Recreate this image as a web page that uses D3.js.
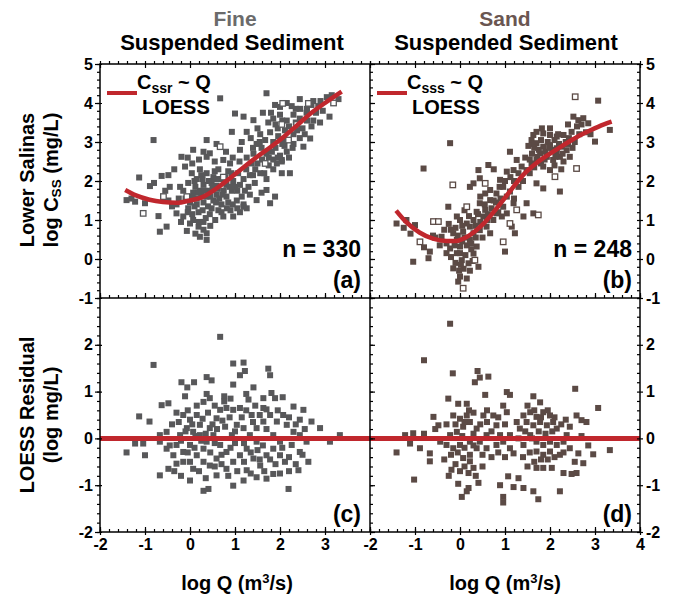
<!DOCTYPE html>
<html><head><meta charset="utf-8">
<script src="https://cdn.jsdelivr.net/npm/d3@7"></script>
<style>body{margin:0;background:#fff}svg{display:block;font-family:"Liberation Sans",Arial,sans-serif;font-weight:bold}</style>
</head><body><script>
// ---------- DATA ----------
const xTicksLeft = [-2,-1,0,1,2,3];
const xTicksRight = [-2,-1,0,1,2,3,4];
const yTicksTop = [-1,0,1,2,3,4,5];
const yTicksBottom = [-2,-1,0,1,2];

const fineFilled = [[-0.81,3.05],[-1.13,2.09],[-1.41,1.51],[-1.22,1.47],[-1.0,1.43],[-0.89,1.87],[-0.63,2.13],[-0.48,2.15],[-0.67,0.7],[-0.52,0.83],[-0.19,2.62],[-0.11,2.37],[0.07,2.8],[-0.22,1.85],[0.37,3.05],[0.44,2.71],[0.37,2.62],[0.74,2.54],[0.67,4.12],[0.93,3.26],[1.0,3.73],[1.19,3.65],[1.26,3.26],[1.41,3.56],[1.7,4.25],[1.89,3.95],[2.26,3.92],[2.44,4.1],[2.74,4.05],[2.85,3.92],[3.04,4.15],[2.67,3.09],[2.52,2.88],[2.22,2.2],[2.04,2.54],[1.7,1.77],[1.78,1.43],[1.48,1.51],[1.19,1.34],[0.96,1.09],[0.74,1.09],[0.37,0.66],[0.22,0.57],[0.37,0.49],[0.19,0.83],[0,0.91],[-0.15,1.09],[-0.3,1.17],
[1.85,3.6],[2.0,3.7],[2.15,3.55],[2.3,3.7],[2.59,3.75],[2.74,3.55],[2.89,3.5],[1.74,3.5],[2.44,3.6],
[0.59,2.95],[1.48,2.95],[1.56,3.2],[1.67,3.05],[1.78,3.25],[1.85,3.0],[1.96,3.15],[2.11,3.3],[2.3,3.2],[2.44,3.1],
[1.11,2.8],[1.26,2.6],[1.41,2.7],[1.59,2.85],[1.7,2.7],[1.85,2.55],[2.0,2.65],[2.04,2.5],[2.15,2.75],[0.89,2.45],[1.37,2.45],[1.93,2.45],
[0.04,2.2],[0.15,2.05],[0.22,2.3],[0.37,2.2],[0.52,2.1],[0.63,2.3],[0.85,2.25],[0.96,2.0],[1.07,2.2],[1.19,2.05],[1.33,2.15],[1.44,1.95],[1.56,2.2],[1.7,2.05],[1.85,2.3],[2.04,2.2],[-0.04,1.95],[0.3,1.9],[0.48,1.95],[0.59,1.88],[0.81,1.9],[1.11,1.9],
[-0.48,1.5],[-0.3,1.4],[-0.15,1.75],[0,1.45],[0.07,1.7],[0.15,1.55],[0.22,1.75],[0.3,1.45],[0.37,1.6],[0.44,1.75],[0.52,1.5],[0.59,1.65],[0.7,1.4],[0.81,1.6],[0.93,1.75],[1.04,1.5],[1.19,1.4],[1.33,1.65],[1.59,1.7],[1.89,1.6],
[-0.04,1.3],[0.07,1.0],[0.19,1.2],[0.3,0.95],[0.44,1.15],[0.56,1.0],[1.11,1.2],[1.26,1.3],[0.63,1.25],[0.3,0.75],[-0.07,0.72],
[0.1,1.35],[0.25,1.65],[0.4,1.35],[0.5,1.85],[0.65,1.55],[0.75,1.75],[0.85,1.45],[0.55,2.25],[0.7,2.05],[0.9,1.25],[0.25,2.15],[0.12,1.85],[-0.1,1.55],[1.0,1.85],[1.15,1.6],[1.3,1.85],[1.45,2.3],[1.6,2.55],[1.75,2.4],[1.9,2.85],[2.1,3.05],[2.2,3.4],[2.35,3.5],[2.5,3.35],[2.1,2.9],[2.3,2.95],[1.95,3.35],[2.6,3.55],[2.0,3.9],[1.62,3.75],[2.45,3.85],[2.8,3.75],[2.95,3.8],[3.1,3.65],[1.5,3.35],[1.35,3.1],[1.15,3.0],[0.8,2.75],[0.2,2.55],[-0.35,2.3],[-0.8,1.95],[-0.55,1.75],[-1.3,1.55],[-0.7,1.1],
[0.05,1.15],[0.15,1.4],[0.28,1.25],[0.35,1.05],[0.48,1.3],[0.58,1.45],[0.7,1.2],[0.82,1.3],[0.95,1.4],[1.05,1.3],[0.05,1.6],[0.18,1.7],[0.32,1.75],[0.45,1.6],[0.62,1.8],[0.72,1.65],[0.88,1.85],[1.05,1.75],[1.22,1.75],[0.1,2.0],[0.28,2.05],[0.42,2.0],[0.6,2.05],[0.78,2.1],[0.92,2.2],[1.25,2.3],[1.4,2.15],[1.5,2.45],[1.65,2.2],[1.75,2.6],[1.82,2.75],[1.95,2.6],[2.05,2.95],[2.2,2.6],[2.28,2.85],[2.38,3.3],[2.55,3.2],[2.7,3.4],[2.6,3.85],[2.7,3.95],[2.9,4.05],[3.15,4.2],[3.3,4.1],[2.15,4.0],[2.35,3.85],[1.8,3.75],[1.9,3.45],[2.05,3.55],[1.55,3.0],[1.4,2.85],[0.2,0.95],[0.45,0.85],[0.12,0.65],[-0.2,0.95],[-0.05,1.2],[-0.25,1.55],[-0.4,1.35],[-0.45,1.85],[-0.6,1.6],[0.55,2.5],[0.95,2.6],[1.1,2.5],[0.05,2.45],[-0.05,2.6],[0.3,2.75]];
const fineOpen = [[-1.04,1.17],[-0.59,1.6],[0.67,2.88],[2.06,3.99],[2.63,3.99],[3.19,4.0],[2.37,3.45],[2.04,3.45],[2.19,3.05],[1.67,2.45],[0.74,2.1],[-0.07,1.6]];
const fineLoess = [[-1.44,1.77],[-1.2,1.63],[-0.9,1.52],[-0.6,1.46],[-0.3,1.44],[0,1.5],[0.3,1.6],[0.6,1.82],[0.9,2.08],[1.2,2.36],[1.5,2.63],[1.8,2.88],[2.1,3.15],[2.4,3.45],[2.7,3.75],[3.0,4.0],[3.37,4.29]];

const sandFilled = [[3.07,4.06],[3.33,3.31],[3.0,3.01],[2.22,2.62],[2.44,2.62],[2.52,3.65],[2.63,3.56],[2.74,3.61],[2.85,3.48],[2.48,3.26],[2.3,3.18],[2.15,3.14],[2.0,3.18],[1.85,3.22],[1.7,3.26],[1.63,3.18],[1.59,3.05],
[1.7,2.97],[1.85,2.88],[2.0,2.92],[2.15,2.84],[2.26,2.88],[2.37,2.79],[1.78,2.71],[1.93,2.62],[2.07,2.54],[1.7,2.54],[1.59,2.45],[1.85,2.37],[2.0,2.28],[1.48,2.28],[2.15,2.71],[2.3,2.5],
[1.7,1.94],[1.85,1.81],[2.22,1.73],[1.26,2.54],[1.37,2.37],[1.19,2.28],[1.04,2.24],[1.11,2.75],[0.63,2.41],[0.41,2.28],[0.44,2.07],[0.3,1.94],[0.22,1.85],
[0.67,1.77],[0.81,1.68],[0.96,1.85],[0.89,2.03],[1.04,1.6],[1.11,1.73],[1.19,1.43],[1.48,1.43],[1.41,1.09],[1.63,1.17],[1.15,0.83],[1.0,0.19],[1.22,0.66],
[-0.81,2.32],[-0.22,2.97],[-0.26,1.34],[0.44,1.43],[0.56,1.26],[0.37,1.21],[0.52,1.09],[-1.41,0.91],[-1.19,1.0],[-1.0,0.87],[-1.04,-0.07],[-0.67,0.19],[-0.7,0.02],
[-0.41,0.57],[-0.3,0.4],[-0.22,0.27],[-0.07,0.49],[0,0.32],[-0.15,0.66],[0.07,0.7],[0.22,0.83],[0.3,1.0],[0.15,0.91],[0,1.0],[-0.07,1.09],
[-0.07,0.15],[0.04,-0.03],[0.19,-0.11],[0.41,-0.2],[-0.15,-0.24],[0,-0.45],[-0.04,-0.58],[0.15,-0.5],
[0.3,0.66],[0.44,0.74],[0.59,0.83],[0.67,0.66],[0.22,0.49],[0.37,0.32],[0.3,0.14],[0.74,1.0],[0.81,1.17],[0.93,1.09],[0.56,1.68],[0.67,1.51],[0.96,1.34],[1.04,1.17],
[1.75,2.8],[1.9,2.75],[2.05,2.8],[2.2,2.95],[2.35,3.0],[1.6,2.7],[1.65,2.85],[1.8,3.05],[1.95,3.0],[2.1,3.05],[2.4,2.95],[2.55,3.0],[2.6,3.4],[2.9,3.2],[1.55,2.2],[1.65,2.35],[1.8,2.45],[2.1,2.4],[2.25,2.3],[1.4,2.0],[1.3,1.85],[1.2,2.0],[0.8,1.45],[0.7,1.3],[0.6,1.0],[0.45,0.95],[0.35,0.85],[0.1,0.55],[0.15,0.35],[-0.1,0.8],[-0.25,0.9],[0.0,0.15],[0.25,0.25],[0.5,0.55],[-0.35,0.75],[-0.55,0.55],[-1.25,0.8],[-0.1,-0.1],[0.08,-0.25],[-0.05,0.6],[0.45,1.6],[0.9,1.55],[1.0,2.0],[0.75,2.3],[-0.6,0.6],
[1.62,2.95],[1.72,2.62],[1.88,2.55],[1.98,2.85],[2.12,2.62],[2.18,3.2],[2.28,2.7],[2.42,3.1],[2.5,2.85],[2.65,3.2],[1.55,2.55],[1.45,2.6],[1.52,2.9],[1.82,3.35],[2.0,3.35],[2.4,3.45],[2.7,3.45],[2.8,3.25],[-0.2,0.05],[-0.12,0.35],[0.05,0.45],[0.12,0.1],[0.25,0.4],[0.28,-0.05],[-0.3,0.15],[-0.2,0.75],[0.05,0.85],[0.35,0.55],[0.4,1.15],[0.62,1.15],[0.55,1.4],[0.75,1.5],[0.85,1.2],[0.88,1.85],[1.2,1.55],[1.3,2.2],[1.12,2.1],[-0.45,0.35],[-0.8,0.3],[-1.1,0.65],[0.2,1.1],[0.1,1.25],[-0.02,-0.3],[0.22,-0.3],[0.02,-0.15]];
const sandOpen = [[2.56,4.16],[2.59,2.32],[2.11,2.11],[0.56,1.94],[1.26,1.26],[1.74,1.13],[1.11,0.91],[0.96,0.44],[-0.16,1.9],[0.15,1.34],[-0.89,0.44],[-0.59,0.96],[-0.48,0.96],[0.33,-0.03],[0.07,-0.75]];
const sandLoess = [[-1.42,1.24],[-1.2,0.95],[-0.9,0.68],[-0.6,0.52],[-0.3,0.46],[-0.1,0.46],[0.2,0.6],[0.5,0.88],[0.8,1.28],[1.1,1.72],[1.4,2.15],[1.7,2.46],[2.0,2.7],[2.3,2.92],[2.6,3.13],[2.9,3.3],[3.2,3.45],[3.37,3.52]];

const fineResid = [[0.67,2.17],[-0.81,1.57],[-0.19,1.2],[-0.06,1.09],[0.09,1.2],[0.37,1.31],[0.48,1.24],[0.96,1.6],[1.19,1.62],[1.22,1.44],[1.11,1.35],[1.74,1.49],[1.78,1.35],[0.96,1.15],[1.41,1.09],[-0.11,0.9],[0.37,0.95],[0.44,0.86],[0.76,0.9],[0.76,0.79],[-0.63,0.71],[-0.48,0.75],[1.3,0.83],[1.63,0.86],[1.81,0.97],[1.89,0.86],[2.06,0.88],[-1.13,0.47],[-0.9,0.36],[2.3,0.68],[2.52,0.61],[2.44,0.4],[2.7,0.36],[2.89,0.22],[3.11,-0.07],[3.33,0.07],[-1.41,-0.3],[-1.22,-0.11],[-1.0,-0.36],[-1.04,-0.11],[-0.67,-0.07],[-0.67,-0.79],[-0.48,-0.65],[0,-0.9],[0.3,-1.12],[0.41,-1.08],[0.96,-1.01],[1.19,-0.9],[1.48,-0.83],[1.7,-0.86],[1.85,-0.76],[2.19,-1.08],[2.41,-0.68],[2.63,-0.5],
[-0.15,0.5],[0,0.4],[0.15,0.5],[0.22,0.29],[0.07,0.14],[-0.07,0.22],[-0.22,0.07],[-0.3,-0.14],[-0.15,-0.29],[0,-0.14],[0.15,-0.36],[0.3,-0.22],[0.37,-0.07],[0.22,0.07],[0.44,0.22],[0.59,0.43],[0.67,0.61],[0.81,0.65],[0.96,0.61],[1.11,0.65],[0.52,0.07],[0.67,-0.14],[0.81,-0.29],[0.59,-0.43],[0.44,-0.58],[0.3,-0.5],[0.07,-0.65],[-0.15,-0.5],[-0.3,-0.54],[-0.37,-0.36],[-0.52,-0.22],[1.04,0.29],[1.19,0.22],[1.33,0.07],[1.48,-0.07],[1.26,-0.22],[1.11,-0.36],[0.96,-0.5],[0.81,-0.65],[1.41,-0.43],[1.56,-0.58],[1.7,-0.36],[1.85,-0.22],[2.0,-0.36],[2.11,-0.5],[1.63,0.36],[1.78,0.5],[1.93,0.36],[2.07,0.5],[1.63,0.65],[2.15,0.29],[2.3,0.14],[2.44,0.07],[2.59,-0.07],[2.26,-0.14],[2.44,-0.29],[1.48,0.22],[0.93,0.07],[0.78,0.25],[1.37,0.5],[-0.52,0.14],[-0.67,0.07],[1.85,0.07],[2.0,-0.07],[0.59,-0.79],[1.26,-0.68],
[-0.4,0.3],[-0.25,0.35],[-0.1,0.15],[0.05,0.3],[0.12,0.05],[0.28,0.42],[0.35,0.1],[0.5,0.3],[0.6,0.2],[0.72,0.38],[0.88,0.45],[1.0,0.15],[1.15,0.45],[1.25,0.6],[1.4,0.35],[1.55,0.5],[1.7,0.2],[1.95,0.6],[2.2,0.45],[2.35,0.3],[2.55,0.2],[-0.45,-0.15],[-0.2,-0.05],[-0.05,-0.3],[0.1,-0.2],[0.25,-0.05],[0.45,-0.3],[0.55,-0.1],[0.7,-0.35],[0.9,-0.2],[1.0,-0.1],[1.2,-0.1],[1.35,-0.3],[1.5,-0.25],[1.62,-0.15],[1.78,-0.45],[1.9,-0.55],[2.05,-0.2],[2.2,-0.4],[2.35,-0.55],[2.5,-0.35],[-0.35,-0.7],[-0.2,-0.8],[0.0,-0.5],[0.2,-0.7],[0.35,-0.85],[0.55,-0.6],[0.7,-0.55],[0.85,-0.8],[1.05,-0.7],[1.2,-0.5],[1.35,-0.75],[1.55,-0.45],[1.65,-0.7],[2.0,-0.75],[2.2,-0.7],[0.15,0.7],[0.4,0.55],[0.3,0.78],[0.55,0.7],[0.9,0.85],[1.25,0.95],[1.45,0.7],[1.7,0.62],[-0.3,0.55],[-0.05,0.6]];

const sandResid = [[-0.22,2.45],[-0.8,1.67],[-0.16,1.39],[0.39,1.44],[0.44,1.3],[0.33,1.2],[0.63,1.32],[-0.26,0.85],[0.56,0.93],[1.04,0.99],[1.11,0.93],[1.63,0.9],[1.78,0.77],[2.56,1.06],[3.07,0.65],[-0.04,0.74],[0.15,0.74],[-0.59,0.46],[-0.48,0.28],[-1.41,-0.3],[-1.22,0.07],[-1.04,0.11],[-1.11,-0.11],[-0.89,-0.21],[-0.67,-0.32],[-0.67,-0.49],[-1.02,-0.88],[-0.19,-0.67],[0,-0.7],[0.19,-0.74],[0.3,-0.63],[-0.04,-0.97],[0.19,-1.06],[0.15,-1.13],[0.04,-1.25],[0.41,-0.95],[0.89,-1.0],[0.96,-1.25],[0.96,-1.37],[1.07,-0.81],[1.19,-1.04],[1.3,-0.85],[1.41,-1.06],[1.63,-1.13],[1.74,-1.3],[1.7,-0.63],[1.85,-0.63],[2.04,-0.63],[2.22,-1.13],[2.3,-0.74],[2.48,-0.76],[2.59,-0.74],[2.63,-0.32],[2.74,-0.53],[2.96,-0.34],[3.33,-0.25],
[-0.15,0.49],[0,0.42],[0.15,0.49],[0.22,0.35],[0.07,0.25],[-0.07,0.14],[-0.22,0.07],[0.37,0.21],[0.52,0.49],[0.74,0.49],[0.96,0.7],[1.04,0.56],[0.81,0.28],[0.59,0.07],[0.44,-0.07],[0.22,-0.07],[0,-0.14],[-0.15,-0.21],[-0.3,-0.14],[-0.44,-0.07],[0.37,-0.21],[0.59,-0.21],[0.81,-0.14],[0.96,-0.07],[1.11,-0.21],[0.89,0.07],[0.22,-0.35],[0.07,-0.42],[0.22,-0.49],[1.11,0.07],[1.19,-0.32],
[1.41,0.49],[1.56,0.56],[1.7,0.46],[1.85,0.56],[2.0,0.49],[1.48,0.35],[1.63,0.28],[1.78,0.35],[1.93,0.28],[2.07,0.35],[2.15,0.21],[1.33,0.21],[1.56,0.07],[1.7,-0.07],[1.85,-0.14],[2.0,-0.07],[2.15,-0.14],[2.3,-0.07],[2.37,0.07],[2.44,0.25],[2.59,0.49],[2.7,0.39],[2.81,0.35],[1.85,-0.35],[1.7,-0.28],[2.0,-0.28],[1.41,-0.14],[1.26,0.35],[2.22,-0.35],[2.44,-0.21],
[-0.3,0.3],[-0.1,0.3],[0.05,0.05],[0.1,0.35],[0.3,0.1],[0.3,0.55],[0.45,0.3],[0.6,0.35],[0.7,0.15],[0.85,0.45],[1.0,0.3],[-0.2,-0.35],[-0.05,-0.3],[0.1,-0.2],[0.3,-0.15],[0.5,-0.35],[0.7,-0.4],[0.85,-0.3],[1.0,-0.4],[-0.35,-0.45],[-0.1,-0.55],[0.1,-0.6],[1.5,0.7],[1.65,0.6],[1.8,0.45],[1.95,0.6],[2.1,0.45],[1.45,0.15],[1.6,0.0],[1.75,0.15],[1.9,0.1],[2.05,0.15],[2.25,0.3],[2.35,0.4],[1.55,-0.3],[1.65,-0.5],[1.8,-0.45],[1.95,-0.45],[2.1,-0.4],[2.3,-0.3],[2.55,-0.5],[1.5,-0.6],[1.4,-0.4],[1.3,0.0],[2.7,0.05],[2.85,-0.15],[0.6,0.6],[0.2,0.6],[-0.55,0.2],[-0.8,0.1],[0.5,-0.6],[0.35,-0.8],[-0.25,-0.8]];

const residZero = [[-2,0],[4,0]];

// ---------- LAYOUT ----------
const W = 674, H = 598;
const red = "#c0272d";
const grayPt = "#58585a", brownPt = "#5b4a45";
const svg = d3.select("body").append("svg").attr("width", W).attr("height", H);
svg.append("rect").attr("width", W).attr("height", H).attr("fill", "#fff");

const xL = d3.scaleLinear().domain([-2,4]).range([100,370]);
const xR = d3.scaleLinear().domain([-2,4]).range([370,640]);
const yT = d3.scaleLinear().domain([-1,5]).range([298,64]);
const yB = d3.scaleLinear().domain([-2,3]).range([532,298]);

const defs = svg.append("defs");
function clip(id, x, y, w, h) {
  defs.append("clipPath").attr("id", id).append("rect").attr("x", x).attr("y", y).attr("width", w).attr("height", h);
}
clip("ca", 100, 64, 270, 234); clip("cb", 370, 64, 270, 234);
clip("cc", 100, 298, 270, 234); clip("cd", 370, 298, 270, 234);

function points(g, data, xs, ys, color, open) {
  const s = open ? 5.5 : 6;
  g.selectAll(null).data(data).join("rect")
    .attr("x", d => xs(d[0]) - s/2).attr("y", d => ys(d[1]) - s/2)
    .attr("width", s).attr("height", s)
    .attr("fill", open ? "#fff" : color)
    .attr("stroke", color).attr("stroke-width", open ? 1.3 : 0);
}
function curve(g, data, xs, ys, w) {
  g.append("path").datum(data)
    .attr("d", d3.line().x(d => xs(d[0])).y(d => ys(d[1])).curve(d3.curveMonotoneX))
    .attr("fill", "none").attr("stroke", red).attr("stroke-width", w).attr("stroke-linecap", "butt");
}

const ga = svg.append("g").attr("clip-path", "url(#ca)");
points(ga, fineFilled, xL, yT, grayPt, false);
points(ga, fineOpen, xL, yT, grayPt, true);
curve(ga, fineLoess, xL, yT, 4.5);

const gb = svg.append("g").attr("clip-path", "url(#cb)");
points(gb, sandFilled, xR, yT, brownPt, false);
points(gb, sandOpen, xR, yT, brownPt, true);
curve(gb, sandLoess, xR, yT, 4.5);

const gc = svg.append("g").attr("clip-path", "url(#cc)");
points(gc, fineResid, xL, yB, grayPt, false);
curve(gc, residZero, xL, yB, 5);

const gd = svg.append("g").attr("clip-path", "url(#cd)");
points(gd, sandResid, xR, yB, brownPt, false);
curve(gd, residZero, xR, yB, 5);

// ---------- AXES ----------
const minor = (a, b) => d3.range(Math.round(a*5), Math.round(b*5)+1).map(v => v/5);
function ax(gen, scale, tx, ty, values, size, labels) {
  const g = svg.append("g").attr("transform", `translate(${tx},${ty})`)
    .call(gen(scale).tickValues(values).tickSizeInner(size).tickSizeOuter(0).tickPadding(2)
      .tickFormat(labels ? (d => String(d)) : ""));
  g.select(".domain").remove();
  g.selectAll(".tick line").attr("stroke", "#000").attr("stroke-width", 1.2);
  g.selectAll("text").attr("fill", "#000").attr("font-size", 16).attr("font-weight", "bold")
    .attr("font-family", '"Liberation Sans", Arial, sans-serif');
  return g;
}
// left axis
ax(d3.axisLeft, yT, 100, 0, yTicksTop, 5, true);
ax(d3.axisLeft, yT, 100, 0, minor(-1,5), 3, false);
ax(d3.axisRight, yT, 100, 0, yTicksTop, 2, false);
ax(d3.axisLeft, yB, 100, 0, yTicksBottom, 5, true);
ax(d3.axisLeft, yB, 100, 0, minor(-2,3), 3, false);
ax(d3.axisRight, yB, 100, 0, yTicksBottom, 2, false);
// right axis
ax(d3.axisRight, yT, 640, 0, yTicksTop, 3, true).selectAll("text").attr("x", 6);
ax(d3.axisLeft, yT, 640, 0, minor(-1,5), 3, false);
ax(d3.axisRight, yB, 640, 0, yTicksBottom, 3, true).selectAll("text").attr("x", 6);
ax(d3.axisLeft, yB, 640, 0, minor(-2,3), 3, false);
// middle vertical divider ticks (pointing right)
ax(d3.axisRight, yT, 370, 0, minor(-1,5), 3, false);
ax(d3.axisRight, yB, 370, 0, minor(-2,3), 3, false);
ax(d3.axisRight, yT, 370, 0, yTicksTop, 5, false);
ax(d3.axisRight, yB, 370, 0, yTicksBottom, 5, false);
// top axis
ax(d3.axisTop, xL, 0, 64, minor(-2,4), 3, false);
ax(d3.axisTop, xR, 0, 64, minor(-2,4), 3, false);
ax(d3.axisBottom, xL, 0, 64, xTicksLeft, 4, false);
ax(d3.axisBottom, xR, 0, 64, xTicksRight, 4, false);
// middle horizontal
ax(d3.axisTop, xL, 0, 298, minor(-2,4), 3, false);
ax(d3.axisTop, xR, 0, 298, minor(-2,4), 3, false);
ax(d3.axisTop, xL, 0, 298, xTicksLeft, 5, false);
ax(d3.axisTop, xR, 0, 298, xTicksRight, 5, false);
// bottom axis
ax(d3.axisTop, xL, 0, 532, minor(-2,4), 3, false);
ax(d3.axisTop, xR, 0, 532, minor(-2,4), 3, false);
ax(d3.axisTop, xL, 0, 532, xTicksLeft, 5, false);
ax(d3.axisTop, xR, 0, 532, xTicksRight, 5, false);
ax(d3.axisBottom, xL, 0, 532, xTicksLeft, 3, true).selectAll("text").attr("y", 7);
ax(d3.axisBottom, xR, 0, 532, xTicksRight, 3, true).selectAll("text").attr("y", 7);

// frames
const frame = svg.append("g").attr("fill", "none").attr("stroke", "#000").attr("stroke-width", 1.5);
frame.append("rect").attr("x", 100).attr("y", 64).attr("width", 540).attr("height", 468);
frame.append("line").attr("x1", 370).attr("x2", 370).attr("y1", 64).attr("y2", 532);
frame.append("line").attr("x1", 100).attr("x2", 640).attr("y1", 298).attr("y2", 298);

// ---------- TEXT ----------
const T = (x, y, txt, size, anchor, fill) => svg.append("text").attr("x", x).attr("y", y)
  .attr("font-size", size).attr("text-anchor", anchor || "start").attr("fill", fill || "#000").text(txt);

T(235, 26, "Fine", 21, "middle", "#6b6b6b");
T(505, 26, "Sand", 21, "middle", "#6a5651");
T(232, 50, "Suspended Sediment", 22, "middle");
T(506, 50, "Suspended Sediment", 22, "middle");

// y labels
function rotLabel(x, y, parts, size) {
  const t = svg.append("text").attr("transform", `translate(${x},${y}) rotate(-90)`)
    .attr("text-anchor", "middle").attr("font-size", size).attr("fill", "#000");
  parts.forEach(p => {
    const ts = t.append("tspan").text(p.t);
    if (p.sub) ts.attr("font-size", size * 0.68).attr("dy", 3);
    if (p.back) ts.attr("dy", -3);
  });
}
rotLabel(34, 180, [{t: "Lower Salinas"}], 20);
rotLabel(58, 180, [{t: "log C"}, {t: "SS", sub: true}, {t: " (mg/L)", back: true}], 20);
rotLabel(34, 415, [{t: "LOESS Residual"}], 20);
rotLabel(58, 415, [{t: "(log mg/L)"}], 20);

// x labels
function xLabel(cx) {
  const t = svg.append("text").attr("x", cx).attr("y", 590).attr("text-anchor", "middle").attr("font-size", 20);
  t.append("tspan").text("log Q (m");
  t.append("tspan").text("3").attr("font-size", 13).attr("dy", -7);
  t.append("tspan").text("/s)").attr("dy", 7);
}
xLabel(237); xLabel(505);

// legends
function legend(x0, sub) {
  svg.append("line").attr("x1", x0).attr("x2", x0 + 30).attr("y1", 93).attr("y2", 93)
    .attr("stroke", red).attr("stroke-width", 4);
  const t = svg.append("text").attr("x", x0 + 30).attr("y", 89).attr("font-size", 20);
  t.append("tspan").text("C");
  t.append("tspan").text(sub).attr("font-size", 14).attr("dy", 4);
  t.append("tspan").text(" ~ Q").attr("dy", -4);
  T(x0 + 35, 114, "LOESS", 20);
}
legend(107, "ssr"); legend(377, "sss");

T(361, 257, "n = 330", 23, "end");
T(632, 257, "n = 248", 23, "end");
T(361, 288, "(a)", 23, "end");
T(632, 288, "(b)", 23, "end");
T(361, 522, "(c)", 23, "end");
T(632, 522, "(d)", 23, "end");
</script></body></html>
